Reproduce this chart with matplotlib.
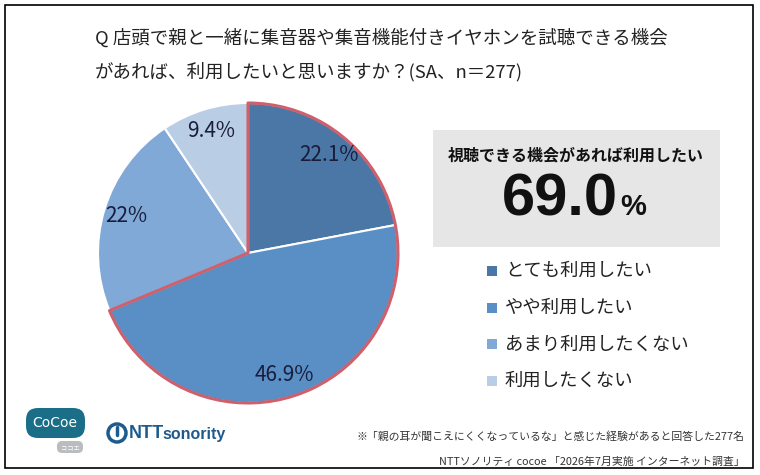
import numpy as np
import matplotlib
matplotlib.use("Agg")
import matplotlib.pyplot as plt
from matplotlib.patches import Rectangle, Wedge, FancyBboxPatch, Circle

plt.rcParams['font.family'] = ['Noto Sans CJK JP', 'DejaVu Sans']

# data
categories = ["とても利用したい", "やや利用したい", "あまり利用したくない", "利用したくない"]
values = [22.1, 46.9, 22.0, 9.4]
value_labels = ["22.1%", "46.9%", "22%", "9.4%"]
colors = ["#4a77a6", "#5a8fc6", "#80a9d8", "#b9cde5"]
highlight_n = 2   # first two slices = "利用したい"
highlight_label = "視聴できる機会があれば利用したい"
highlight_value = "69.0"

title_lines = ["Q 店頭で親と一緒に集音器や集音機能付きイヤホンを試聴できる機会",
               "があれば、利用したいと思いますか？(SA、n＝277)"]
note_lines = ["※「親の耳が聞こえにくくなっているな」と感じた経験があると回答した277名",
              "NTTソノリティ cocoe 「2026年7月実施 インターネット調査」"]

W, H = 760, 475
fig = plt.figure(figsize=(W / 100, H / 100), dpi=100)

# background axes in pixel coords
bg = fig.add_axes([0, 0, 1, 1])
bg.set_xlim(0, W)
bg.set_ylim(H, 0)
bg.axis('off')

bg.add_patch(Rectangle((5, 5), 748, 463, fill=False, edgecolor='black', lw=1.2))

for i, line in enumerate(title_lines):
    bg.text(95, 38 + i * 34, line, fontsize=13.3, color='#222222', va='center', ha='left')

# highlight box
bg.add_patch(Rectangle((433, 130), 287, 117, facecolor='#e6e6e6', edgecolor='none'))
bg.text(576, 155, highlight_label, fontsize=11.5, fontweight='bold', color='#111111',
        ha='center', va='center')
bg.text(618, 215, highlight_value, fontsize=43, fontweight='bold', color='#111111',
        ha='right', va='baseline', family=['Liberation Sans'])
bg.text(620, 215, "%", fontsize=21, fontweight='bold', color='#111111',
        ha='left', va='baseline', family=['Liberation Sans'])

# legend
for i, (cat, col) in enumerate(zip(categories, colors)):
    y = 271 + i * 36.7
    bg.add_patch(Rectangle((487, y - 5), 10, 10, facecolor=col, edgecolor='none'))
    bg.text(505, y, cat, fontsize=13.2, color='#222222', va='center', ha='left')

# notes
bg.text(745, 437, note_lines[0], fontsize=7.8, color='#333333', ha='right', va='center')
bg.text(745, 462, note_lines[1], fontsize=7.8, color='#333333', ha='right', va='center')

# logos
bg.add_patch(FancyBboxPatch((28, 410), 55, 26, boxstyle="round,pad=2,rounding_size=12",
                            facecolor='#1b6e87', edgecolor='none'))
bg.text(55, 423, "CoCoe", fontsize=10, color='white', ha='center', va='center',
        family=['DejaVu Sans'])
bg.add_patch(FancyBboxPatch((58, 442), 24, 10, boxstyle="round,pad=1,rounding_size=5",
                            facecolor='#b9bdbf', edgecolor='none'))
bg.text(70, 447, "ココエ", fontsize=4.5, color='white', ha='center', va='center')
bg.add_patch(Circle((117, 433), 9, fill=False, edgecolor='#1e5b8c', lw=2.5))
bg.plot([117, 117], [427, 435], color='#1e5b8c', lw=2.5, solid_capstyle='round')
bg.text(129, 433, "NTT", fontsize=13, fontweight='bold', color='#1e5b8c',
        ha='left', va='center', family=['Liberation Sans'])
bg.text(162, 434, "sonority", fontsize=11.5, fontweight='bold', color='#1e5b8c',
        ha='left', va='center', family=['Liberation Sans'])

# pie
cx, cy, r = 248, 253, 153
ax = fig.add_axes([(cx - r) / W, (H - cy - r) / H, 2 * r / W, 2 * r / H])
wedges, _ = ax.pie(values, colors=colors, startangle=90, counterclock=False,
                   wedgeprops=dict(edgecolor='white', linewidth=1.5))
ax.set_xlim(-1.02, 1.02)
ax.set_ylim(-1.02, 1.02)
ax.set_aspect('equal')

total = sum(values)
cum = 0.0
for v, lab in zip(values, value_labels):
    mid = np.deg2rad(90 - (cum + v / 2) / total * 360)
    cum += v
    ax.text(0.85 * np.cos(mid), 0.85 * np.sin(mid), lab, fontsize=15,
            color='#1a1d3a', ha='center', va='center')

hi_deg = sum(values[:highlight_n]) / total * 360
ax.add_patch(Wedge((0, 0), 1.0, 90 - hi_deg, 90, fill=False,
                   edgecolor='#cf5f6b', lw=2.2, joinstyle='round'))

fig.savefig("out.png", dpi=100)
